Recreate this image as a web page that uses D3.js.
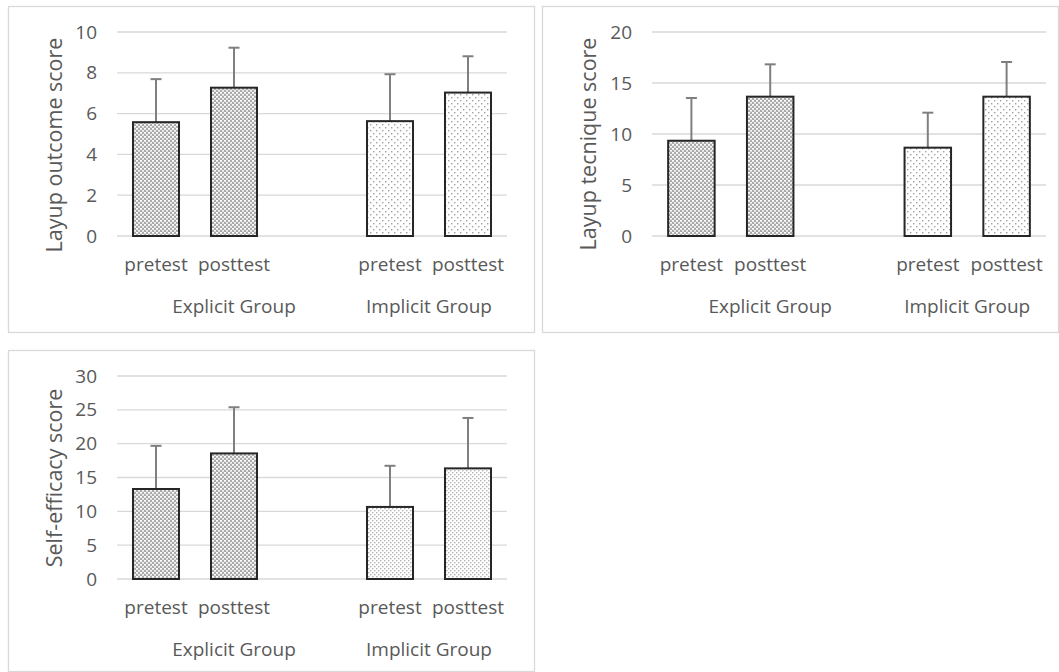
<!DOCTYPE html>
<html>
<head>
<meta charset="utf-8">
<script src="https://cdn.jsdelivr.net/npm/d3@7"></script>
<style>
  body { margin: 0; background: #fff; }
  svg { display: block; font-family: "Open Sans", sans-serif; }
</style>
</head>
<body>
<script>
// category slots (the empty one is the gap between groups)
var slots = ["ePre", "ePost", "gap", "iPre", "iPost"];
var barSlots = ["ePre", "ePost", "iPre", "iPost"];
var barLabels = ["pretest", "posttest", "pretest", "posttest"];
var groupLabels = ["Explicit Group", "Implicit Group"];

// values: means and standard deviations
var outcomeMean = [5.58, 7.27, 5.63, 7.03];
var outcomeSd = [2.11, 1.96, 2.30, 1.78];
var techniqueMean = [9.34, 13.66, 8.66, 13.66];
var techniqueSd = [4.19, 3.17, 3.43, 3.40];
var efficacyMean = [13.3, 18.56, 10.65, 16.35];
var efficacySd = [6.38, 6.82, 6.08, 7.45];

var outcomeTicks = [0, 2, 4, 6, 8, 10];
var techniqueTicks = [0, 5, 10, 15, 20];
var efficacyTicks = [0, 5, 10, 15, 20, 25, 30];

var width = 1059, height = 672;

var svg = d3.select("body").append("svg")
    .attr("width", width)
    .attr("height", height);

//fill patterns
var defs = svg.append("defs");

var dark = defs.append("pattern")
    .attr("id", "darkDots")
    .attr("patternUnits", "userSpaceOnUse")
    .attr("width", 4).attr("height", 4);
dark.append("rect").attr("width", 4).attr("height", 4).attr("fill", "#ababab");
dark.append("rect").attr("x", 0).attr("y", 0).attr("width", 2).attr("height", 1.7).attr("fill", "#fff");
dark.append("rect").attr("x", 2).attr("y", 2).attr("width", 2).attr("height", 1.7).attr("fill", "#f4f4f4");

var light = defs.append("pattern")
    .attr("id", "lightDots")
    .attr("patternUnits", "userSpaceOnUse")
    .attr("width", 6).attr("height", 6);
light.append("rect").attr("width", 6).attr("height", 6).attr("fill", "#fff");
light.append("rect").attr("x", 1).attr("y", 1).attr("width", 1.4).attr("height", 1.4).attr("fill", "#a0a0a0");
light.append("rect").attr("x", 4).attr("y", 4).attr("width", 1.4).attr("height", 1.4).attr("fill", "#a0a0a0");

var medium = defs.append("pattern")
    .attr("id", "mediumDots")
    .attr("patternUnits", "userSpaceOnUse")
    .attr("width", 4).attr("height", 4);
medium.append("rect").attr("width", 4).attr("height", 4).attr("fill", "#fff");
medium.append("rect").attr("x", 0).attr("y", 0).attr("width", 1.5).attr("height", 1.3).attr("fill", "#b4b4b4");
medium.append("rect").attr("x", 2).attr("y", 2).attr("width", 1.5).attr("height", 1.3).attr("fill", "#b4b4b4");

var panels = [
  { box: [8, 6, 534, 332], plot: [117, 32, 507, 236], max: 10, ticks: outcomeTicks,
    mean: outcomeMean, sd: outcomeSd, title: "Layup outcome score", titleY: 145, implicitFill: "url(#lightDots)" },
  { box: [542, 6, 1058, 332], plot: [652, 32, 1046, 236], max: 20, ticks: techniqueTicks,
    mean: techniqueMean, sd: techniqueSd, title: "Layup tecnique score", titleY: 144, implicitFill: "url(#lightDots)" },
  { box: [8, 350, 534, 671], plot: [117, 376, 507, 579], max: 30, ticks: efficacyTicks,
    mean: efficacyMean, sd: efficacySd, title: "Self-efficacy score", titleY: 478, implicitFill: "url(#mediumDots)" }
];

panels.forEach(drawPanel);

function drawPanel(p){
  var g = svg.append("g");

  //chart frame
  g.append("rect")
      .attr("x", p.box[0] + 0.5).attr("y", p.box[1] + 0.5)
      .attr("width", p.box[2] - p.box[0]).attr("height", p.box[3] - p.box[1])
      .attr("fill", "#fff").attr("stroke", "#d9d9d9").attr("stroke-width", 1.3);

  var x = d3.scaleBand()
      .domain(slots)
      .range([p.plot[0], p.plot[2]])
      .paddingInner(0.41)
      .paddingOuter(0.205);

  var y = d3.scaleLinear()
      .domain([0, p.max])
      .range([p.plot[3], p.plot[1]]);

  //gridlines
  g.selectAll(".grid")
      .data(p.ticks)
      .enter().append("line")
      .attr("class", "grid")
      .attr("x1", p.plot[0]).attr("x2", p.plot[2])
      .attr("y1", function(d){ return y(d); })
      .attr("y2", function(d){ return y(d); })
      .attr("stroke", "#d9d9d9").attr("stroke-width", 1.3);

  //y axis labels
  var yAxis = g.append("g")
      .attr("transform", "translate(" + p.plot[0] + ",0)")
      .call(d3.axisLeft(y).tickValues(p.ticks).tickSize(0).tickPadding(20));
  yAxis.select(".domain").remove();
  yAxis.selectAll("text")
      .attr("fill", "#595959")
      .style("font-family", "Open Sans")
      .style("font-size", "19px");

  //axis title
  g.append("text")
      .attr("transform", "translate(" + (p.box[0] + 54) + "," + p.titleY + ") rotate(-90)")
      .attr("text-anchor", "middle")
      .attr("fill", "#595959")
      .style("font-size", "21.5px")
      .text(p.title);

  var rows = barSlots.map(function(s, i){
    return { slot: s, mean: p.mean[i], sd: p.sd[i], label: barLabels[i], implicit: i > 1 };
  });

  //error bars (upper half only)
  var err = g.selectAll(".err")
      .data(rows)
      .enter().append("g")
      .attr("class", "err")
      .attr("stroke", "#7f7f7f").attr("stroke-width", 2);
  err.append("line")
      .attr("x1", function(d){ return x(d.slot) + x.bandwidth() / 2; })
      .attr("x2", function(d){ return x(d.slot) + x.bandwidth() / 2; })
      .attr("y1", function(d){ return y(d.mean); })
      .attr("y2", function(d){ return y(d.mean + d.sd); });
  err.append("line")
      .attr("x1", function(d){ return x(d.slot) + x.bandwidth() / 2 - 5.5; })
      .attr("x2", function(d){ return x(d.slot) + x.bandwidth() / 2 + 5.5; })
      .attr("y1", function(d){ return y(d.mean + d.sd); })
      .attr("y2", function(d){ return y(d.mean + d.sd); });

  //bars
  g.selectAll(".bar")
      .data(rows)
      .enter().append("rect")
      .attr("class", "bar")
      .attr("x", function(d){ return x(d.slot); })
      .attr("width", x.bandwidth())
      .attr("y", function(d){ return y(d.mean); })
      .attr("height", function(d){ return y(0) - y(d.mean); })
      .attr("fill", function(d){ return d.implicit ? p.implicitFill : "url(#darkDots)"; })
      .attr("stroke", "#262626").attr("stroke-width", 2);

  //category labels
  g.selectAll(".cat")
      .data(rows)
      .enter().append("text")
      .attr("class", "cat")
      .attr("x", function(d){ return x(d.slot) + x.bandwidth() / 2; })
      .attr("y", p.plot[3] + 35)
      .attr("text-anchor", "middle")
      .attr("fill", "#595959")
      .style("font-size", "19px")
      .text(function(d){ return d.label; });

  //group labels: explicit spans slots 0-2, implicit spans slots 3-4
  var spans = [["ePre", "gap"], ["iPre", "iPost"]];
  g.selectAll(".grp")
      .data(groupLabels)
      .enter().append("text")
      .attr("class", "grp")
      .attr("x", function(d, i){
        var a = x(spans[i][0]) + x.bandwidth() / 2,
            b = x(spans[i][1]) + x.bandwidth() / 2;
        return (a + b) / 2;
      })
      .attr("y", p.plot[3] + 77)
      .attr("text-anchor", "middle")
      .attr("fill", "#595959")
      .style("font-size", "19px")
      .text(function(d){ return d; });
}
</script>
</body>
</html>
